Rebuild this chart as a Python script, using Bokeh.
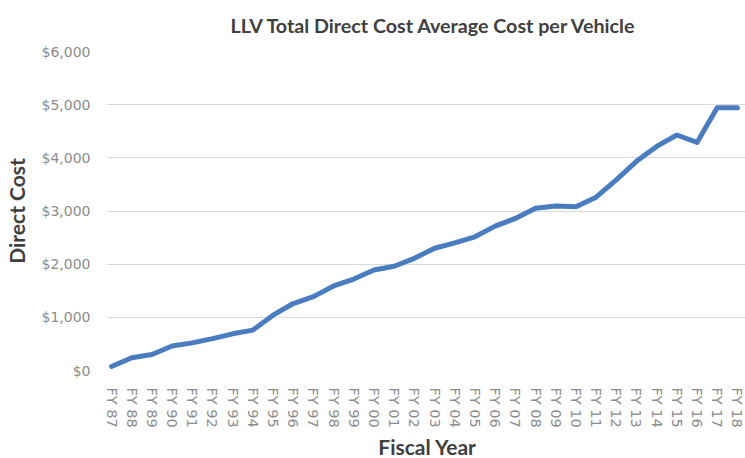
from bokeh.plotting import figure
from bokeh.models import Range1d, FixedTicker, NumeralTickFormatter, ColumnDataSource
from bokeh.embed import file_html
from bokeh.resources import INLINE

fiscal_years = ["FY 87", "FY 88", "FY 89", "FY 90", "FY 91", "FY 92", "FY 93", "FY 94",
                "FY 95", "FY 96", "FY 97", "FY 98", "FY 99", "FY 00", "FY 01", "FY 02",
                "FY 03", "FY 04", "FY 05", "FY 06", "FY 07", "FY 08", "FY 09", "FY 10",
                "FY 11", "FY 12", "FY 13", "FY 14", "FY 15", "FY 16", "FY 17", "FY 18"]
direct_cost = [75, 240, 300, 460, 520, 600, 690, 760,
               1040, 1260, 1390, 1590, 1720, 1890, 1960, 2110,
               2300, 2400, 2515, 2715, 2860, 3050, 3095, 3080,
               3260, 3585, 3935, 4215, 4430, 4290, 4940, 4940]
y_ticks = [0, 1000, 2000, 3000, 4000, 5000, 6000]
title_text = "LLV Total Direct Cost Average Cost per Vehicle"

idx = list(range(len(fiscal_years)))
src = ColumnDataSource(dict(x=idx, y=direct_cost))

FONT = "Lato"
TICK_FONT = "DejaVu Sans"
p = figure(frame_width=642, frame_height=319, output_backend="svg", toolbar_location=None,
           title=title_text,
           x_range=Range1d(-0.25, len(fiscal_years) - 1 + 0.55),
           y_range=Range1d(0, 6000),
           min_border_left=95, min_border_right=0, min_border_top=50, min_border_bottom=81)
p.outline_line_color = None
p.background_fill_color = "white"
p.border_fill_color = "white"

p.title.align = "left"
p.title.offset = 124
p.title.vertical_align = "top"
p.title.standoff = 26
p.title.text_font = FONT
p.title.text_font_size = "19.7px"
p.title.text_font_style = "bold"
p.title.text_color = "#404040"

p.line("x", "y", source=src, line_color="#4a7dbf", line_width=5, line_join="round", line_cap="round")

p.xgrid.grid_line_color = None
p.ygrid.grid_line_color = "#d9d9d9"
p.ygrid.grid_line_width = 1.2
p.yaxis.ticker = FixedTicker(ticks=y_ticks)
p.yaxis.formatter = NumeralTickFormatter(format="$0,0")
p.xaxis.ticker = FixedTicker(ticks=idx)
p.xaxis.major_label_overrides = {i: s for i, s in enumerate(fiscal_years)}
p.xaxis.major_label_orientation = "vertical"

for ax in (p.xaxis[0], p.yaxis[0]):
    ax.axis_line_color = None
    ax.major_tick_line_color = None
    ax.minor_tick_line_color = None
    ax.major_label_text_font = TICK_FONT
    ax.major_label_text_font_size = "14px"
    ax.major_label_text_color = "#8c8c8c"
    ax.axis_label_text_font = FONT
    ax.axis_label_text_font_size = "21px"
    ax.axis_label_text_font_style = "bold"
    ax.axis_label_text_color = "#404040"

p.xaxis.major_label_text_font_size = "14.5px"
p.xaxis.axis_label = "Fiscal Year"
p.yaxis.axis_label = "Direct Cost"
p.xaxis.major_label_standoff = 11
p.xaxis.axis_label_standoff = 3
p.yaxis.major_label_standoff = 10
p.yaxis.axis_label_standoff = 10

open("out.html", "w").write(file_html(p, INLINE))
